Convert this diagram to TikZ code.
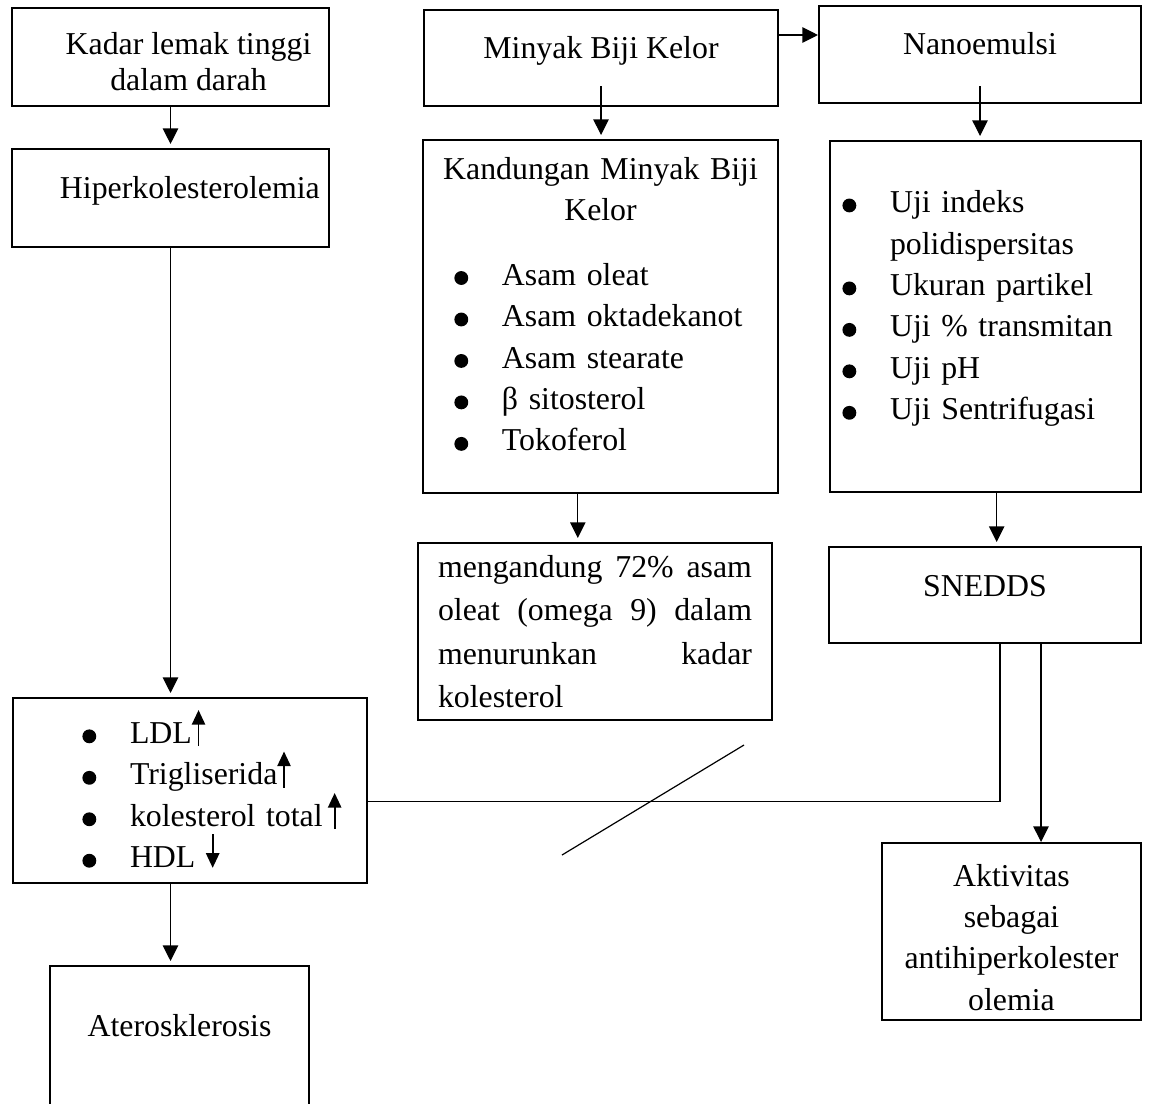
\documentclass[tikz,border=0pt]{standalone}
\usepackage{fontspec}
\setmainfont{Liberation Serif}
\usetikzlibrary{arrows.meta}
\newcommand{\titik}{\tikz[baseline=-5.3pt]\fill (0,0) circle (5.2pt);}
\newcommand{\butir}[1]{\makebox[35.7pt][l]{\titik}#1}
\newcommand{\kaki}[1]{\rule[-#1]{0pt}{#1}}
\newcommand{\kepala}[1]{\rule{0pt}{#1}}
\newcommand{\naik}{\tikz[baseline=0pt]\draw[line width=1.3pt,-{Triangle[width=10pt,length=11pt]}] (0,-2pt) -- (0,25pt);}
\newcommand{\turun}{\tikz[baseline=0pt]\draw[line width=1.3pt,-{Triangle[width=10pt,length=11pt]}] (0,25pt) -- (0,0pt);}
\begin{document}
\begin{tikzpicture}[x=0.75pt,y=-0.75pt,
  box/.style={draw,line width=1.5pt,inner sep=0pt,font=\fontsize{23.87}{31.1}\selectfont},
  arr/.style={line width=0.9pt,-{Triangle[width=11.5pt,length=11.7pt]},shorten >=3pt}]
\useasboundingbox (0,0) rectangle (1152,1103);
\node[box,minimum width=237.75pt,minimum height=73.5pt,align=center] (kadar) at (170.5,57) {\kepala{23pt}\hspace*{27pt}Kadar lemak tinggi\\[-4pt]\hspace*{27pt}dalam darah};
\node[box,minimum width=265.5pt,minimum height=72pt] (minyak) at (601,58) {Minyak Biji Kelor\kaki{16.5pt}};
\node[box,minimum width=241.5pt,minimum height=72.75pt] (nano) at (980,54.5) {Nanoemulsi\kaki{17.3pt}};
\node[box,minimum width=237.75pt,minimum height=73.5pt] (hiper) at (170.5,198) {\hspace*{29pt}Hiperkolesterolemia\kaki{16.5pt}};
\node[box,minimum width=266.25pt,minimum height=264.75pt,text width=219.2pt] (kand) at (600.5,316.5) {{\centering\makebox[\linewidth]{Kandungan Minyak Biji}\\ Kelor\par}\vspace{17pt}
\butir{Asam oleat}\\ \butir{Asam oktadekanot}\\ \butir{Asam stearate}\\ \butir{β sitosterol}\\ \butir{Tokoferol\kaki{18.5pt}}};
\node[box,minimum width=233.25pt,minimum height=263.25pt,text width=214.6pt] (uji) at (985.5,316.5) {\butir{Uji indeks}\\ \hspace*{35.7pt}polidispersitas\\ \butir{Ukuran partikel}\\ \butir{Uji \% transmitan}\\ \butir{Uji pH}\\ \butir{Uji Sentrifugasi\kaki{17pt}}};
\node[box,minimum width=265.5pt,minimum height=132.75pt,text width=235.5pt,align=justify,font=\fontsize{23.87}{32.5}\selectfont] (meng) at (595,631.5) {mengandung 72\% asam\linebreak oleat (omega 9) dalam\linebreak menurunkan kadar\linebreak kolesterol};
\node[box,minimum width=234pt,minimum height=72pt] (sned) at (985,595) {SNEDDS\kaki{13pt}};
\node[box,minimum width=265.5pt,minimum height=138.75pt,text width=161.4pt] (ldl) at (190,790.5) {\butir{LDL\naik}\\ \butir{Trigliserida\naik}\\ \butir{\mbox{kolesterol total}\,\naik}\\ \butir{HDL \turun\kaki{3pt}}};
\node[box,minimum width=194.25pt,minimum height=138pt] (ateros) at (179.5,1058) {Aterosklerosis\kaki{49pt}};
\node[box,minimum width=194.25pt,minimum height=132.75pt,align=center] (aktiv) at (1011.5,931.5) {\kepala{25.3pt}Aktivitas\\ sebagai\\ antihiperkolester\\ olemia};
\draw[arr] (kadar) -- (hiper);
\draw[arr] (hiper) -- (hiper |- ldl.north);
\draw[arr] (ldl.south -| hiper) -- (ateros.north -| hiper);
\draw[arr,shorten >=0pt] ([yshift=17.25pt]minyak.east) -- ([yshift=17.25pt]minyak.east -| nano.west);
\draw[arr] ([yshift=15.75pt]minyak.south) -- (minyak.south |- kand.north);
\draw[arr] ([yshift=13.5pt]nano.south) -- (nano.south |- uji.north);
\draw[arr] ([xshift=-17pt]kand.south) -- ([xshift=-17pt]kand.south |- meng.north);
\draw[arr] ([xshift=8.4pt]uji.south) -- ([xshift=8.4pt]uji.south |- sned.north);
\draw[arr,shorten >=0pt] ([xshift=42pt]sned.south) -- ([xshift=42pt]sned.south |- aktiv.north);
\draw[line width=0.9pt] ([xshift=11.25pt]sned.south) |- ([yshift=-8.25pt]ldl.east);
\coordinate (p1) at (562,855);
\coordinate (p2) at (744,745);
\draw[line width=0.9pt] (p1) -- (p2);
\end{tikzpicture}
\end{document}
